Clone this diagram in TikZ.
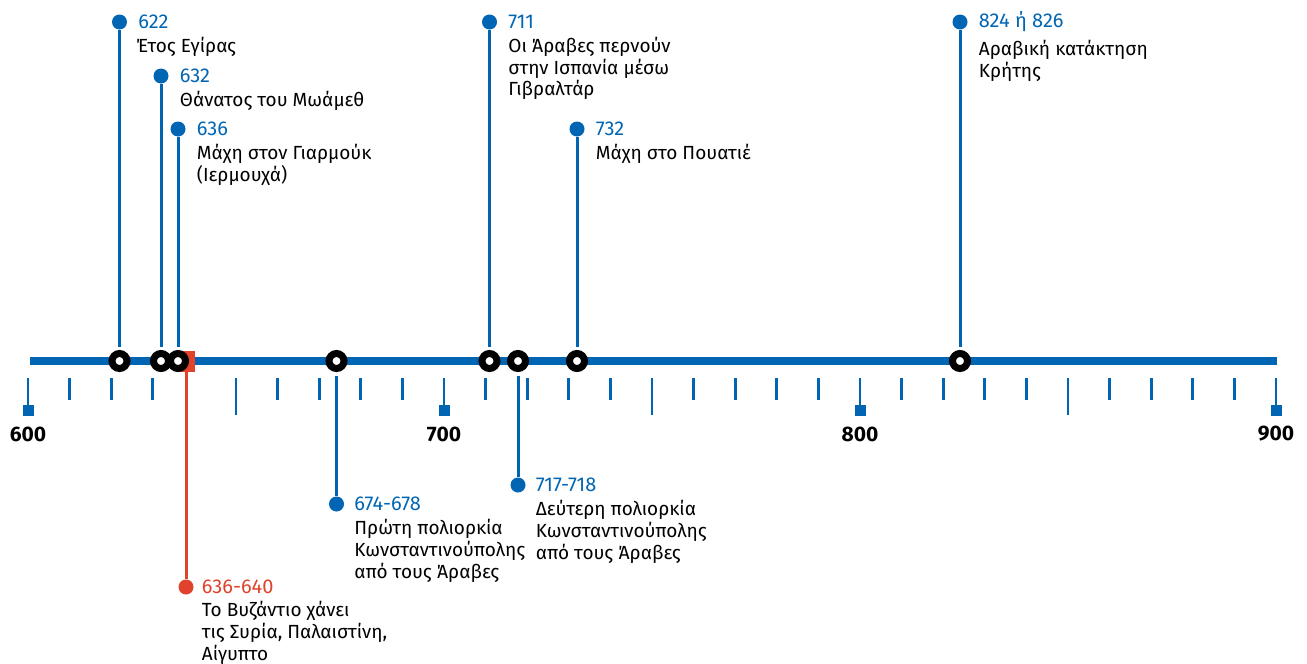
\documentclass[tikz,border=0pt]{standalone}
\usepackage{fontspec}
\setmainfont{Fira Sans}
\usetikzlibrary{positioning}
\definecolor{tlblue}{RGB}{0,101,179}
\definecolor{tlred}{RGB}{224,66,43}

\begin{document}
\begin{tikzpicture}[x=1pt, y=-1pt,
	ring/.style={shape=circle, draw=black, line width=7pt, fill=white, minimum size=15pt, inner sep=0pt},
	dot/.style={shape=circle, fill=tlblue, minimum size=15pt, inner sep=0pt},
	stem/.style={draw=tlblue, line width=3pt},
	yr/.style={text=tlblue, font=\fontsize{20}{21.5}\selectfont, inner sep=0pt},
	txt/.style={font=\fontsize{19}{21.7}\selectfont, align=left, inner sep=0pt},
	cent/.style={font=\fontsize{21}{24}\selectfont\bfseries, inner sep=0pt}]
	\useasboundingbox (0,0) rectangle (1307,664);

	% axis and ticks
	\coordinate (A0) at (30,361);
	\coordinate (A1) at (1277,361);
	\path [draw=tlblue, line width=8pt] (A0) -- (A1);
	\foreach \k in {1,2,3,6,7,8,9,11,12,13,14,16,17,18,19,21,22,23,24,26,27,28,29}
		\draw [tlblue, line width=2.7pt] (28+41.6*\k,378) -- (28+41.6*\k,400);
	\foreach \k in {5,15,25}
		\draw [tlblue, line width=2.7pt] (28+41.6*\k,378) -- (28+41.6*\k,415);
	\foreach \k/\c in {0/600,10/700,20/800,30/900} {
		\node[shape=rectangle, fill=tlblue, minimum size=11pt, inner sep=0pt] (C\c) at (28+41.6*\k,410.5) {};
		\draw [tlblue, line width=2.7pt] (28+41.6*\k,378) -- (C\c.north);
		\node[cent] (L\c) at (28+41.6*\k,434) {\c};
	}

	% red span 636-640
	\node[shape=rectangle, fill=tlred, minimum width=17pt, minimum height=21pt, inner sep=0pt] (s638) at (186,361.5) {};
	\node[shape=circle, fill=tlred, minimum size=15pt, inner sep=0pt] (d638) at (186,587) {};
	\path [draw=tlred, line width=3pt] (s638.south) edge (d638);

	% events on the axis
	\node[ring] (r622) at (119.5,361) {};
	\node[ring] (r632) at (161,361) {};
	\node[ring] (r636) at (178,361) {};
	\node[ring] (r674) at (336.5,361) {};
	\node[ring] (r711) at (489.5,361) {};
	\node[ring] (r717) at (518,361) {};
	\node[ring] (r732) at (577,361) {};
	\node[ring] (r824) at (960,361) {};

	\node[dot] (d622) at (119.5,22) {};
	\node[dot] (d632) at (161,76) {};
	\node[dot] (d636) at (178,129) {};
	\node[dot] (d674) at (336.5,504) {};
	\node[dot] (d711) at (489.5,22) {};
	\node[dot] (d717) at (518,485) {};
	\node[dot] (d732) at (577,129) {};
	\node[dot] (d824) at (960,22) {};

	\path [stem, shorten <=3.5pt] (r622) edge (d622);
	\path [stem, shorten <=3.5pt] (r632) edge (d632);
	\path [stem, shorten <=3.5pt] (r636) edge (d636);
	\path [stem, shorten <=3.5pt] (r674) edge (d674);
	\path [stem, shorten <=3.5pt] (r711) edge (d711);
	\path [stem, shorten <=3.5pt] (r717) edge (d717);
	\path [stem, shorten <=3.5pt] (r732) edge (d732);
	\path [stem, shorten <=3.5pt] (r824) edge (d824);

	% labels
	\node[yr, right=11pt of d622] (n622) {622};
	\node[txt, below right=8pt and -2pt of n622.south west] (t622) {Έτος Εγίρας};
	\node[yr, right=11pt of d632] (n632) {632};
	\node[txt, below right=8pt and 0pt of n632.south west] (t632) {Θάνατος του Μωάμεθ};
	\node[yr, right=11pt of d636] (n636) {636};
	\node[txt, below right=8pt and 0pt of n636.south west] (t636) {Μάχη στον Γιαρμούκ\\(Ιερμουχά)};
	\node[yr, right=11pt of d711] (n711) {711};
	\node[txt, below right=8pt and 0pt of n711.south west] (t711) {Οι Άραβες περνούν\\στην Ισπανία μέσω\\Γιβραλτάρ};
	\node[yr, right=11pt of d732] (n732) {732};
	\node[txt, below right=8pt and 0pt of n732.south west] (t732) {Μάχη στο Πουατιέ};
	\node[yr, right=11pt of d824] (n824) {824 ή 826};
	\node[txt, below right=8pt and 0pt of n824.south west] (t824) {Αραβική κατάκτηση\\Κρήτης};
	\node[yr, right=10pt of d674] (n674) {674-678};
	\node[txt, below right=8pt and 0pt of n674.south west] (t674) {Πρώτη πολιορκία\\Κωνσταντινούπολης\\από τους Άραβες};
	\node[yr, right=10pt of d717] (n717) {717-718};
	\node[txt, below right=8pt and 0pt of n717.south west] (t717) {Δεύτερη πολιορκία\\Κωνσταντινούπολης\\από τους Άραβες};
	\node[yr, text=tlred, right=8pt of d638] (n638) {636-640};
	\node[txt, below right=7pt and 0pt of n638.south west] (t638) {Το Βυζάντιο χάνει\\τις Συρία, Παλαιστίνη,\\Αίγυπτο};

\end{tikzpicture}
\end{document}
